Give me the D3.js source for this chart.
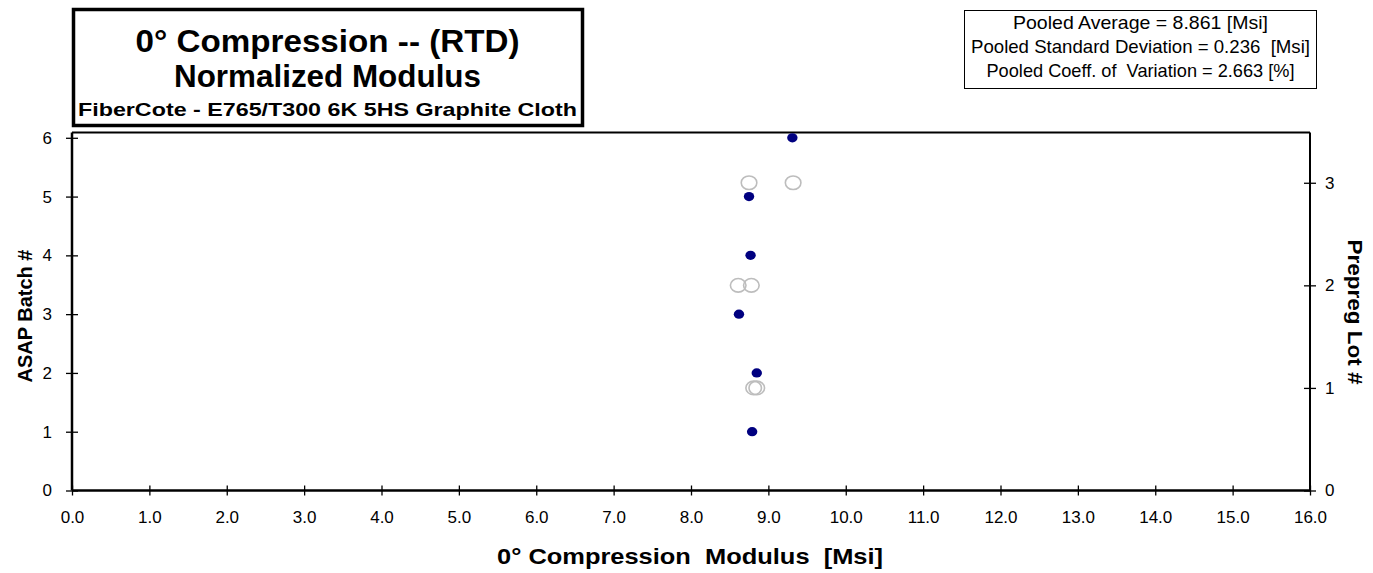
<!DOCTYPE html>
<html>
<head>
<meta charset="utf-8">
<script src="https://cdn.jsdelivr.net/npm/d3@7"></script>
<style>
  body { margin: 0; background: #fff; }
  svg { font-family: Arial, "Liberation Sans", sans-serif; }
</style>
</head>
<body>
<div id="chart"></div>
<script>
// Batch averages (left axis) and prepreg lot values (right axis)
const batches = [1, 2, 3, 4, 5, 6];
const batchModulus = [8.79, 8.85, 8.62, 8.77, 8.75, 9.31];
const lots = [1, 1, 2, 2, 3, 3];
const lotModulus = [8.81, 8.85, 8.61, 8.78, 8.75, 9.32];
const xTicks = d3.range(0, 17, 1);
const batchTicks = [0, 1, 2, 3, 4, 5, 6];
const lotTicks = [0, 1, 2, 3];
const titleLines = ['0° Compression -- (RTD)', 'Normalized Modulus', 'FiberCote - E765/T300 6K 5HS Graphite Cloth'];
const statLines = ['Pooled Average = 8.861 [Msi]', 'Pooled Standard Deviation = 0.236  [Msi]', 'Pooled Coeff. of  Variation = 2.663 [%]'];

const W = 1373, H = 573;
const margin = { top: 132.5, right: 63, bottom: 82.5, left: 72 };
const width = W - margin.left - margin.right;
const height = H - margin.top - margin.bottom;

const svg = d3.select('#chart').append('svg')
  .attr('width', W)
  .attr('height', H);

const g = svg.append('g')
  .attr('transform', `translate(${margin.left},${margin.top})`);

const x = d3.scaleLinear().domain([0, 16]).range([0, width]);
const yL = d3.scaleLinear().domain([0, 6.09]).range([height, 0]);
const yR = d3.scaleLinear().domain([0, 3.49]).range([height, 0]);

// top border
g.append('line')
  .attr('x1', 0).attr('x2', width)
  .attr('y1', 0).attr('y2', 0)
  .attr('stroke', '#000').attr('stroke-width', 2);

// X axis (ticks crossing the line)
const xAxis = g.append('g')
  .attr('transform', `translate(0,${height})`)
  .call(d3.axisBottom(x).tickValues(xTicks).tickSize(5).tickFormat(d3.format('.1f')));
xAxis.selectAll('.tick line').attr('y1', -5).attr('stroke-width', 1.3);
xAxis.selectAll('text').attr('y', 20).style('font-size', '17px').attr('fill', '#000');
xAxis.select('.domain').attr('stroke-width', 2.5).attr('d', `M0,0H${width}`);

// Left axis
const lAxis = g.append('g')
  .call(d3.axisLeft(yL).tickValues(batchTicks).tickSize(6).tickFormat(d3.format('d')));
lAxis.selectAll('.tick line').attr('x1', 6).attr('stroke-width', 1.3);
lAxis.selectAll('text').attr('x', -20).style('font-size', '17px').attr('fill', '#000');
lAxis.select('.domain').attr('stroke-width', 2.5).attr('d', `M0,${height}V0`);

// Right axis
const rAxis = g.append('g')
  .attr('transform', `translate(${width},0)`)
  .call(d3.axisRight(yR).tickValues(lotTicks).tickSize(6).tickFormat(d3.format('d')));
rAxis.selectAll('.tick line').attr('x1', -6).attr('stroke-width', 1.3);
rAxis.selectAll('text').attr('x', 15).style('font-size', '17px').attr('fill', '#000');
rAxis.select('.domain').attr('stroke-width', 2).attr('d', `M0,${height}V0`);

// Lot points: open grey circles
g.selectAll('.lot')
  .data(lotModulus)
  .enter()
  .append('ellipse')
  .attr('class', 'lot')
  .attr('cx', d => x(d))
  .attr('cy', (d, i) => yR(lots[i]))
  .attr('rx', 7.8)
  .attr('ry', 6.8)
  .attr('fill', 'none')
  .attr('stroke', '#bdbdbd')
  .attr('stroke-width', 1.6);

// Batch points: filled navy
g.selectAll('.batch')
  .data(batchModulus)
  .enter()
  .append('ellipse')
  .attr('class', 'batch')
  .attr('cx', d => x(d))
  .attr('cy', (d, i) => yL(batches[i]))
  .attr('rx', 5.2)
  .attr('ry', 4.6)
  .attr('fill', '#000080');

// Axis titles
svg.append('text')
  .attr('x', 690)
  .attr('y', 564)
  .attr('text-anchor', 'middle')
  .attr('textLength', 386)
  .attr('lengthAdjust', 'spacingAndGlyphs')
  .style('font-size', '22px')
  .style('font-weight', 'bold')
  .style('white-space', 'pre')
  .text('0° Compression  Modulus  [Msi]');

svg.append('text')
  .attr('transform', `translate(32,${316}) rotate(-90)`)
  .attr('text-anchor', 'middle')
  .attr('textLength', 133)
  .attr('lengthAdjust', 'spacingAndGlyphs')
  .style('font-size', '20px')
  .style('font-weight', 'bold')
  .text('ASAP Batch #');

svg.append('text')
  .attr('transform', `translate(1348,${312}) rotate(90)`)
  .attr('text-anchor', 'middle')
  .attr('textLength', 145)
  .attr('lengthAdjust', 'spacingAndGlyphs')
  .style('font-size', '20px')
  .style('font-weight', 'bold')
  .text('Prepreg Lot #');

// Title box
svg.append('rect')
  .attr('x', 73.5).attr('y', 9.5)
  .attr('width', 509).attr('height', 116)
  .attr('fill', '#fff')
  .attr('stroke', '#000').attr('stroke-width', 3.5);

const titleY = [52, 87, 116];
const titleSize = [32, 32, 18.5];
const titleLen = [384, 307, 499];
titleLines.forEach((t, i) => {
  svg.append('text')
    .attr('x', 327.5).attr('y', titleY[i])
    .attr('text-anchor', 'middle')
    .attr('textLength', titleLen[i])
    .attr('lengthAdjust', 'spacingAndGlyphs')
    .style('font-size', titleSize[i] + 'px')
    .style('font-weight', 'bold')
    .text(t);
});

// Stats box
svg.append('rect')
  .attr('x', 964.5).attr('y', 10.5)
  .attr('width', 352).attr('height', 78)
  .attr('fill', '#fff')
  .attr('stroke', '#000').attr('stroke-width', 1);

const statLen = [255, 339, 308];
statLines.forEach((t, i) => {
  svg.append('text')
    .attr('x', 1140.5).attr('y', 28.5 + i * 24)
    .attr('text-anchor', 'middle')
    .attr('textLength', statLen[i])
    .attr('lengthAdjust', 'spacingAndGlyphs')
    .style('font-size', '18.5px')
    .style('white-space', 'pre')
    .text(t);
});
</script>
</body>
</html>
